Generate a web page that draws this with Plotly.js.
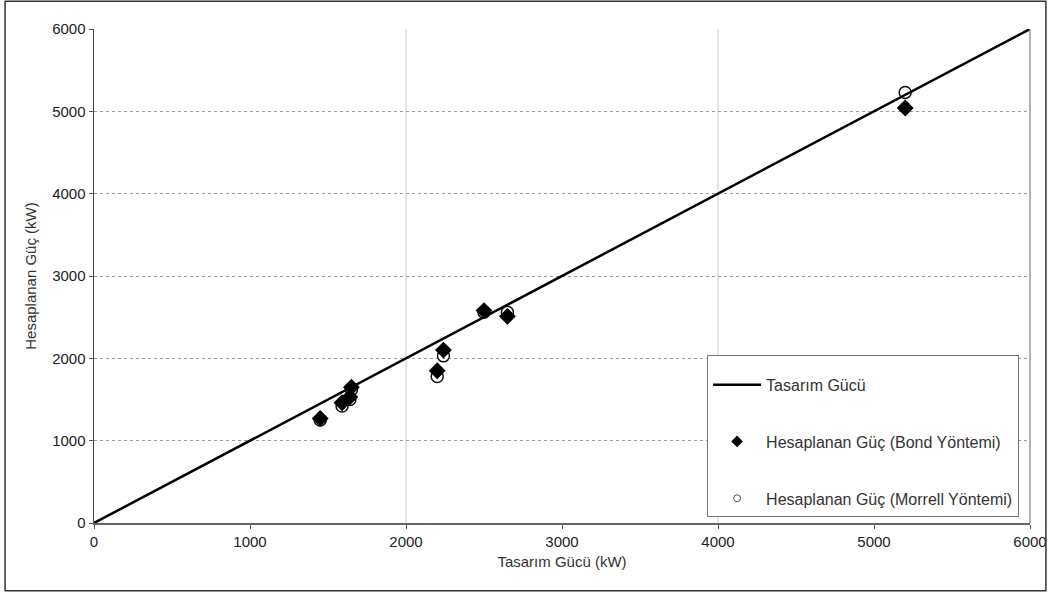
<!DOCTYPE html>
<html>
<head>
<meta charset="utf-8">
<script src="https://cdn.plot.ly/plotly-3.0.1.min.js"></script>
<style>html,body{margin:0;padding:0;background:#fff;}#chart{width:1048px;height:593px;}</style>
</head>
<body>
<div id="chart"></div>
<script>
// Design power (x) and calculated powers (y), kW
const tasarimGucu   = [1450, 1590, 1640, 1650, 2200, 2240, 2500, 2650, 5200];
const bondGuc       = [1270, 1460, 1530, 1650, 1850, 2100, 2580, 2510, 5040];
const morrellGuc    = [1250, 1420, 1500, 1620, 1780, 2030, 2560, 2560, 5230];
const lineX         = [0, 6000];
const lineY         = [0, 6000];
const seriesNames   = ["Tasarım Gücü", "Hesaplanan Güç (Bond Yöntemi)", "Hesaplanan Güç (Morrell Yöntemi)"];
const tickVals      = [0, 1000, 2000, 3000, 4000, 5000, 6000];
const faintGridX    = [2000, 4000];

const traces = [
  {
    x: lineX, y: lineY, name: seriesNames[0], mode: "lines", type: "scatter",
    line: {color: "#000", width: 2.5}, legendgroup: "a", legendrank: 1
  },
  {
    x: tasarimGucu, y: morrellGuc, name: seriesNames[2], mode: "markers", type: "scatter",
    marker: {symbol: "circle-open", size: 12, color: "#111", line: {width: 1.5, color: "#111"}},
    legendgroup: "c", showlegend: false
  },
  {
    x: tasarimGucu, y: bondGuc, name: seriesNames[1], mode: "markers", type: "scatter",
    marker: {symbol: "diamond", size: 13, color: "#000"},
    legendgroup: "b", showlegend: false
  },
  // legend entries (smaller symbols, as in the original legend)
  {
    x: [null], y: [null], name: seriesNames[1], mode: "markers", type: "scatter",
    marker: {symbol: "diamond", size: 9, color: "#000"},
    legendgroup: "b", legendrank: 2
  },
  {
    x: [null], y: [null], name: seriesNames[2], mode: "markers", type: "scatter",
    marker: {symbol: "circle-open", size: 7, color: "#555", line: {width: 1, color: "#555"}},
    legendgroup: "c", legendrank: 3
  }
];

const layout = {
  width: 1048, height: 593,
  paper_bgcolor: "#fff", plot_bgcolor: "#fff",
  margin: {l: 94, r: 18, t: 29, b: 70},
  font: {family: "Liberation Sans, Arial, sans-serif", size: 15, color: "#222"},
  showlegend: true,
  legend: {
    x: 0.655, y: 0.012, xanchor: "left", yanchor: "bottom",
    bgcolor: "#fff", bordercolor: "#777", borderwidth: 1,
    font: {size: 16, color: "#333"},
    title: {text: " ", font: {size: 9}},
    traceorder: "grouped", tracegroupgap: 33,
    itemwidth: 48
  },
  xaxis: {
    range: [0, 6000], tickvals: tickVals, ticks: "outside", ticklen: 4, tickcolor: "#555",
    showline: true, linecolor: "#666", linewidth: 1.5,
    showgrid: false,
    minor: {tickvals: faintGridX, showgrid: true, gridcolor: "#e6e6e6", gridwidth: 1.5, ticks: ""},
    zeroline: false,
    tickfont: {size: 15, color: "#222"},
    title: {text: "Tasarım Gücü (kW)", font: {size: 15, color: "#333"}, standoff: 8}
  },
  yaxis: {
    range: [0, 6000], tickvals: tickVals, ticks: "outside", ticklen: 4, tickcolor: "#555",
    showline: true, linecolor: "#444", linewidth: 1.5,
    showgrid: true, gridcolor: "#999", griddash: "dot", gridwidth: 1,
    zeroline: false,
    tickfont: {size: 15, color: "#222"},
    title: {text: "Hesaplanan Güç (kW)", font: {size: 15, color: "#333"}, standoff: 12}
  },
  shapes: [
    {type: "line", xref: "paper", yref: "paper", x0: 1, x1: 1, y0: 0, y1: 1,
     line: {color: "#999", width: 1.5}},
    {type: "rect", xref: "paper", yref: "paper",
     x0: -0.095, x1: 1.017, y0: -0.137, y1: 1.056,
     line: {color: "#333", width: 1.5}, fillcolor: "rgba(0,0,0,0)"}
  ]
};

Plotly.newPlot("chart", traces, layout, {displayModeBar: false, staticPlot: true});
</script>
</body>
</html>
